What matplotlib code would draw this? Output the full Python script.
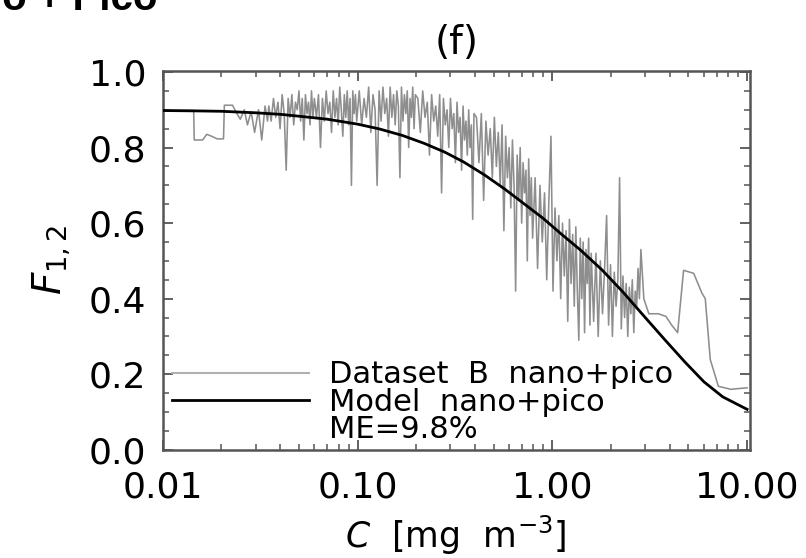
import matplotlib
matplotlib.use("Agg")
import matplotlib.pyplot as plt
from matplotlib.lines import Line2D
from matplotlib.ticker import FixedLocator, LogLocator, NullFormatter, MultipleLocator

# --- Dataset B nano+pico (grey, noisy) ---
c_data = [
    # low-chlorophyll end
    0.0100, 0.0144, 0.0145, 0.0160, 0.0168, 0.0178, 0.0190, 0.0205, 0.0207, 0.0228,
    0.0240, 0.0250, 0.0262, 0.0272, 0.0284, 0.0296, 0.0310, 0.0322, 0.0335, 0.0345,
    # dense band
    0.035, 0.036, 0.037, 0.038, 0.039, 0.040, 0.041, 0.042, 0.043, 0.044,
    0.045, 0.046, 0.047, 0.048, 0.049, 0.050, 0.051, 0.052, 0.053, 0.054,
    0.055, 0.056, 0.057, 0.058, 0.059, 0.060,
    0.0615, 0.063, 0.0645, 0.066, 0.0675, 0.069, 0.0705, 0.072, 0.0735, 0.075,
    0.0765, 0.078, 0.0795, 0.081, 0.0825, 0.084, 0.0855, 0.087, 0.0885, 0.090,
    0.0915, 0.093, 0.0945, 0.096, 0.0975, 0.099,
    0.102, 0.105, 0.108, 0.111, 0.114, 0.117, 0.120, 0.123, 0.126, 0.129,
    0.132, 0.135, 0.138, 0.141, 0.144, 0.147, 0.150, 0.153, 0.156, 0.159,
    0.162, 0.165, 0.168, 0.171, 0.174, 0.177, 0.180, 0.183, 0.186, 0.189,
    0.192, 0.195, 0.198,
    0.204, 0.210, 0.216, 0.222, 0.228, 0.234, 0.240, 0.246, 0.252, 0.258,
    0.264, 0.270, 0.276, 0.282, 0.288, 0.294, 0.300, 0.306, 0.312, 0.318,
    0.324, 0.330, 0.336, 0.342, 0.348, 0.354, 0.360, 0.366, 0.372, 0.378,
    0.384, 0.390, 0.396,
    0.408, 0.420, 0.432, 0.444, 0.456, 0.468, 0.480, 0.492, 0.504, 0.516,
    0.528, 0.540, 0.552, 0.564, 0.576, 0.588, 0.600, 0.612, 0.624, 0.636,
    0.648, 0.660, 0.672, 0.684, 0.696, 0.708, 0.720, 0.732, 0.744, 0.756,
    0.768, 0.780, 0.792,
    0.816, 0.840, 0.864, 0.888, 0.912, 0.936, 0.960, 0.984, 1.008, 1.032,
    1.056, 1.080, 1.104, 1.128, 1.152, 1.176, 1.200, 1.224, 1.248, 1.272,
    1.296, 1.320, 1.344, 1.368, 1.392, 1.416, 1.440, 1.464, 1.488, 1.512,
    1.536, 1.560, 1.584,
    1.630, 1.675, 1.720, 1.765, 1.810, 1.855, 1.900, 1.945, 1.990, 2.035,
    2.080, 2.125, 2.170, 2.215, 2.260, 2.305, 2.350, 2.395, 2.440, 2.485,
    2.530, 2.575, 2.620, 2.665, 2.710, 2.755, 2.800,
    # high-chlorophyll end
    2.85, 2.95, 3.13, 3.50, 3.83, 4.10, 4.28, 4.40, 4.72, 5.32,
    5.87, 6.10, 6.47, 7.12, 8.24, 10.0]
f_data = [
    0.898, 0.898, 0.82, 0.82, 0.835, 0.83, 0.823, 0.823, 0.912, 0.912,
    0.89, 0.875, 0.90, 0.86, 0.895, 0.84, 0.90, 0.82, 0.91, 0.87,
    0.91, 0.87, 0.93, 0.88, 0.92, 0.85, 0.94, 0.89, 0.74, 0.93,
    0.88, 0.94, 0.86, 0.92, 0.90, 0.95, 0.87, 0.93, 0.82, 0.94,
    0.89, 0.92, 0.86, 0.95, 0.88, 0.93,
    0.88, 0.94, 0.80, 0.93, 0.87, 0.95, 0.89, 0.92, 0.84, 0.95,
    0.88, 0.93, 0.86, 0.96, 0.90, 0.83, 0.94, 0.88, 0.95, 0.86,
    0.93, 0.70, 0.95, 0.89, 0.94, 0.87,
    0.95, 0.86, 0.93, 0.88, 0.96, 0.84, 0.94, 0.90, 0.70, 0.95,
    0.87, 0.96, 0.89, 0.93, 0.83, 0.96, 0.88, 0.94, 0.86, 0.95,
    0.91, 0.72, 0.96, 0.87, 0.94, 0.89, 0.95, 0.80, 0.93, 0.88,
    0.96, 0.85, 0.94,
    0.93, 0.84, 0.95, 0.88, 0.92, 0.78, 0.94, 0.87, 0.91, 0.83,
    0.94, 0.68, 0.93, 0.86, 0.90, 0.80, 0.93, 0.85, 0.89, 0.76,
    0.92, 0.84, 0.88, 0.74, 0.91, 0.82, 0.87, 0.78, 0.90, 0.80,
    0.86, 0.61, 0.89,
    0.88, 0.76, 0.89, 0.66, 0.87, 0.78, 0.85, 0.72, 0.88, 0.75,
    0.84, 0.70, 0.86, 0.58, 0.83, 0.72, 0.80, 0.64, 0.82, 0.70,
    0.42, 0.78, 0.66, 0.80, 0.60, 0.76, 0.68, 0.74, 0.50, 0.77,
    0.62, 0.72, 0.56,
    0.72, 0.48, 0.70, 0.55, 0.68, 0.45, 0.66, 0.83, 0.42, 0.64,
    0.50, 0.62, 0.40, 0.60, 0.46, 0.58, 0.34, 0.61, 0.44, 0.57,
    0.38, 0.59, 0.42, 0.29, 0.56, 0.40, 0.55, 0.31, 0.53, 0.44,
    0.56, 0.33, 0.52,
    0.34, 0.52, 0.30, 0.50, 0.36, 0.48, 0.62, 0.33, 0.49, 0.30,
    0.47, 0.38, 0.45, 0.72, 0.32, 0.46, 0.35, 0.44, 0.30, 0.43,
    0.36, 0.45, 0.31, 0.42, 0.38, 0.48, 0.40,
    0.53, 0.40, 0.36, 0.36, 0.353, 0.33, 0.318, 0.31, 0.475, 0.467,
    0.414, 0.40, 0.239, 0.168, 0.16, 0.164]

# --- Model nano+pico (black, smooth) ---
c_model = [0.0100, 0.015, 0.02, 0.03, 0.04, 0.05, 0.07, 0.1, 0.13, 0.17, 0.22, 0.28, 0.35,
           0.45, 0.57, 0.7, 0.9, 1.1, 1.4, 1.8, 2.3, 3.0, 3.8, 4.8, 6.0, 7.5, 10.0]
f_model = [0.898, 0.897, 0.896, 0.892, 0.888, 0.883, 0.875, 0.862, 0.849, 0.832, 0.811,
           0.788, 0.762, 0.727, 0.690, 0.655, 0.612, 0.573, 0.528, 0.476, 0.418, 0.350,
           0.290, 0.232, 0.180, 0.140, 0.107]

x_ticks = [0.01, 0.1, 1.0, 10.0]
x_ticklabels = ["0.01", "0.10", "1.00", "10.00"]
y_ticks = [0.0, 0.2, 0.4, 0.6, 0.8, 1.0]
y_ticklabels = ["0.0", "0.2", "0.4", "0.6", "0.8", "1.0"]

AXCOL = "#555555"

fig = plt.figure(figsize=(8.06, 5.58), dpi=100)
ax = fig.add_axes([0.202, 0.194, 0.728, 0.679])

ax.plot(c_data, f_data, color="#8e8e8e", lw=1.15, zorder=2)
ax.plot(c_model, f_model, color="black", lw=2.0, zorder=3)

ax.set_xscale("log")
ax.set_xlim(0.01, 10.3)
ax.set_ylim(0.0, 1.003)

ax.xaxis.set_major_locator(FixedLocator(x_ticks))
ax.set_xticklabels(x_ticklabels)
ax.xaxis.set_minor_locator(LogLocator(base=10, subs=range(2, 10)))
ax.xaxis.set_minor_formatter(NullFormatter())
ax.set_yticks(y_ticks)
ax.set_yticklabels(y_ticklabels)
ax.yaxis.set_minor_locator(MultipleLocator(0.05))

ax.tick_params(which="both", direction="in", top=True, right=True, color=AXCOL)
ax.tick_params(which="major", length=7, width=1.3)
ax.tick_params(which="minor", length=4, width=1.1)
ax.tick_params(axis="x", which="major", labelsize=26, pad=15)
ax.tick_params(axis="y", which="major", labelsize=26, pad=12)
for sp in ax.spines.values():
    sp.set_color(AXCOL)
    sp.set_linewidth(1.8)

ax.set_xlabel(r"$C$  [mg  m$^{-3}$]", fontsize=25)
ax.xaxis.set_label_coords(0.5, -0.17)
ax.set_ylabel(r"$F_{1,2}$", fontsize=28)
ax.yaxis.set_label_coords(-0.155, 0.5)
ax.set_title("(f)", fontsize=28, pad=12)

handles = [Line2D([], [], color="#b0b0b0", lw=1.5),
           Line2D([], [], color="black", lw=2.0),
           Line2D([], [], color="none")]
labels = ["Dataset  B  nano+pico", "Model  nano+pico", "ME=9.8%"]
ax.legend(handles, labels, loc="lower left", bbox_to_anchor=(0.0, -0.01),
          frameon=False, fontsize=22, handlelength=4.5, handletextpad=0.65,
          labelspacing=-0.05, borderpad=0.0, borderaxespad=0.3)

fig.text(0.195, 0.982, "Nano + Pico", ha="right", va="baseline",
         fontsize=29, fontweight="bold", family="Liberation Sans")

fig.savefig("out.png", dpi=100)
